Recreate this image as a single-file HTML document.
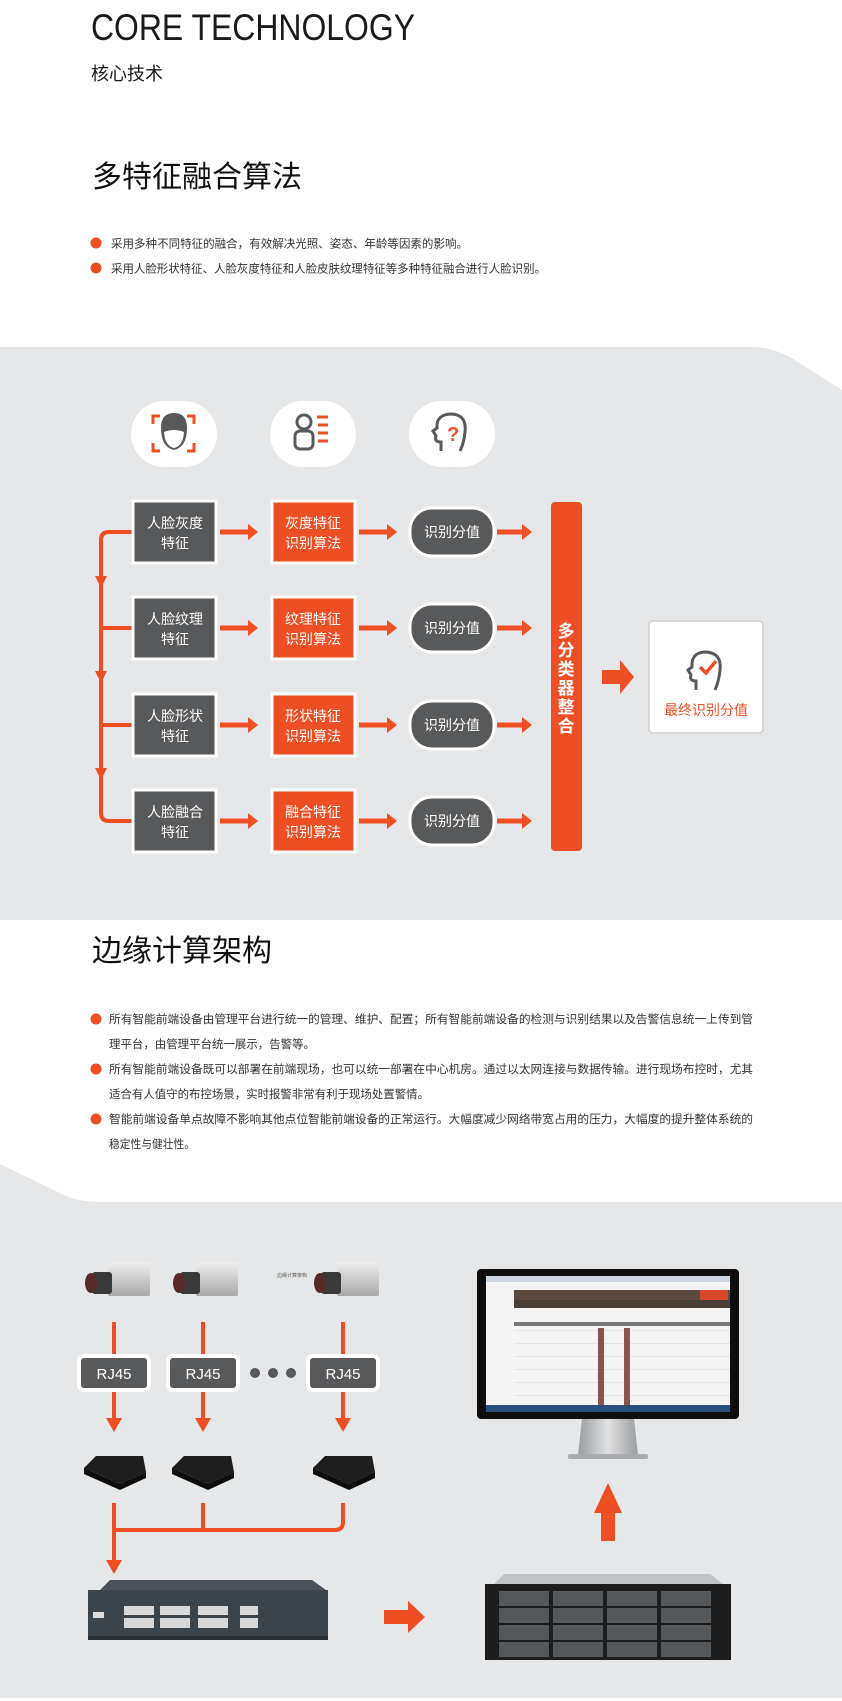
<!DOCTYPE html>
<html><head><meta charset="utf-8"><style>
html,body{margin:0;padding:0;background:#fff}
svg{display:block}
text{font-family:"Liberation Sans","Noto Sans CJK SC",sans-serif}
</style></head><body>
<svg width="842" height="1701" viewBox="0 0 842 1701" xmlns="http://www.w3.org/2000/svg">
<defs>
<linearGradient id="cam" x1="0" y1="0" x2="0" y2="1"><stop offset="0" stop-color="#eeeeee"/><stop offset="1" stop-color="#a9a9a9"/></linearGradient>
<linearGradient id="stand" x1="0" y1="0" x2="1" y2="0"><stop offset="0" stop-color="#9a9c9e"/><stop offset="0.5" stop-color="#e0e1e2"/><stop offset="1" stop-color="#9a9c9e"/></linearGradient>
</defs>
<rect width="842" height="1701" fill="#fff"/>
<!-- header -->
<text x="91" y="40" font-size="37" fill="#1a1a1a" textLength="324" lengthAdjust="spacingAndGlyphs">CORE TECHNOLOGY</text>
<text x="91" y="80" font-size="18" fill="#1a1a1a">核心技术</text>
<text x="92" y="187" font-size="30" fill="#111">多特征融合算法</text>
<circle cx="96" cy="243" r="5.5" fill="#ee4e23"/>
<text x="111" y="247.5" font-size="11.5" fill="#333" textLength="357" lengthAdjust="spacingAndGlyphs">采用多种不同特征的融合，有效解决光照、姿态、年龄等因素的影响。</text>
<circle cx="96" cy="268" r="5.5" fill="#ee4e23"/>
<text x="111" y="272.5" font-size="11.5" fill="#333" textLength="435" lengthAdjust="spacingAndGlyphs">采用人脸形状特征、人脸灰度特征和人脸皮肤纹理特征等多种特征融合进行人脸识别。</text>

<!-- gray section 1 -->
<path d="M0 347 H752 Q775 347 798 362 L842 390 V920 H0 Z" fill="#e6e7e8"/>
<rect x="131" y="401" width="86" height="66" rx="33" fill="#fff"/>
<rect x="270" y="401" width="86" height="66" rx="33" fill="#fff"/>
<rect x="409" y="401" width="86" height="66" rx="33" fill="#fff"/>
<g fill="none" stroke="#ee4e23" stroke-width="3">
<path d="M153 424 V416 H160"/><path d="M187 416 H194 V424"/><path d="M153 443 V451 H160"/><path d="M187 451 H194 V443"/>
</g>
<path d="M161 428 Q161 413 174 413 Q187 413 187 428 Q187 447 174 450 Q161 447 161 428 Z" fill="#58595b"/>
<path d="M164 432 Q174 428 184 432 Q183 446 174 448 Q165 446 164 432Z" fill="#fff"/>
<g fill="none" stroke="#58595b" stroke-width="3">
<circle cx="304" cy="422" r="7"/>
<rect x="295" y="431" width="18" height="18" rx="5"/>
</g>
<g stroke="#ee4e23" stroke-width="3"><line x1="317" y1="417" x2="328" y2="417"/><line x1="318" y1="425" x2="328" y2="425"/><line x1="318" y1="433" x2="328" y2="433"/><line x1="318" y1="441" x2="328" y2="441"/></g>
<path d="M441 451 V442 Q434 442 436 436 L433 431 L437 428 Q436 414 452 414 Q467 415 465 432 Q464 443 460 451" fill="none" stroke="#58595b" stroke-width="3"/>
<text x="447" y="441" font-size="20" font-weight="bold" fill="#ee4e23">?</text>

<path d="M133 532 H109 Q101 532 101 540 V813 Q101 821 109 821 H133" fill="none" stroke="#ee4e23" stroke-width="4"/>
<line x1="101" y1="628" x2="133" y2="628" stroke="#ee4e23" stroke-width="4"/>
<line x1="101" y1="725" x2="133" y2="725" stroke="#ee4e23" stroke-width="4"/>
<polygon points="95,576 107,576 101,588" fill="#ee4e23"/>
<polygon points="95,671 107,671 101,683" fill="#ee4e23"/>
<polygon points="95,768 107,768 101,780" fill="#ee4e23"/>

<g font-size="14" fill="#fff" text-anchor="middle">
<rect x="133" y="501" width="83" height="62" fill="#58595b" stroke="#fff" stroke-width="3"/>
<text x="175" y="528">人脸灰度</text><text x="175" y="548">特征</text>
<rect x="272" y="501" width="83" height="62" fill="#ee4e23" stroke="#fff" stroke-width="3"/>
<text x="313" y="528">灰度特征</text><text x="313" y="548">识别算法</text>
<rect x="410" y="508" width="84" height="48" rx="22" fill="#58595b" stroke="#fff" stroke-width="3"/>
<text x="452" y="537">识别分值</text>
<rect x="133" y="597" width="83" height="62" fill="#58595b" stroke="#fff" stroke-width="3"/>
<text x="175" y="624">人脸纹理</text><text x="175" y="644">特征</text>
<rect x="272" y="597" width="83" height="62" fill="#ee4e23" stroke="#fff" stroke-width="3"/>
<text x="313" y="624">纹理特征</text><text x="313" y="644">识别算法</text>
<rect x="410" y="604" width="84" height="48" rx="22" fill="#58595b" stroke="#fff" stroke-width="3"/>
<text x="452" y="633">识别分值</text>
<rect x="133" y="694" width="83" height="62" fill="#58595b" stroke="#fff" stroke-width="3"/>
<text x="175" y="721">人脸形状</text><text x="175" y="741">特征</text>
<rect x="272" y="694" width="83" height="62" fill="#ee4e23" stroke="#fff" stroke-width="3"/>
<text x="313" y="721">形状特征</text><text x="313" y="741">识别算法</text>
<rect x="410" y="701" width="84" height="48" rx="22" fill="#58595b" stroke="#fff" stroke-width="3"/>
<text x="452" y="730">识别分值</text>
<rect x="133" y="790" width="83" height="62" fill="#58595b" stroke="#fff" stroke-width="3"/>
<text x="175" y="817">人脸融合</text><text x="175" y="837">特征</text>
<rect x="272" y="790" width="83" height="62" fill="#ee4e23" stroke="#fff" stroke-width="3"/>
<text x="313" y="817">融合特征</text><text x="313" y="837">识别算法</text>
<rect x="410" y="797" width="84" height="48" rx="22" fill="#58595b" stroke="#fff" stroke-width="3"/>
<text x="452" y="826">识别分值</text>
</g>
<g stroke="#ee4e23" stroke-width="5">
<line x1="220" y1="532" x2="250" y2="532"/><line x1="359" y1="532" x2="389" y2="532"/><line x1="497" y1="532" x2="524" y2="532"/>
<line x1="220" y1="628" x2="250" y2="628"/><line x1="359" y1="628" x2="389" y2="628"/><line x1="497" y1="628" x2="524" y2="628"/>
<line x1="220" y1="725" x2="250" y2="725"/><line x1="359" y1="725" x2="389" y2="725"/><line x1="497" y1="725" x2="524" y2="725"/>
<line x1="220" y1="821" x2="250" y2="821"/><line x1="359" y1="821" x2="389" y2="821"/><line x1="497" y1="821" x2="524" y2="821"/>
</g>
<g fill="#ee4e23">
<polygon points="248,524 258,532 248,540"/><polygon points="387,524 397,532 387,540"/><polygon points="522,524 532,532 522,540"/>
<polygon points="248,620 258,628 248,636"/><polygon points="387,620 397,628 387,636"/><polygon points="522,620 532,628 522,636"/>
<polygon points="248,717 258,725 248,733"/><polygon points="387,717 397,725 387,733"/><polygon points="522,717 532,725 522,733"/>
<polygon points="248,813 258,821 248,829"/><polygon points="387,813 397,821 387,829"/><polygon points="522,813 532,821 522,829"/>
</g>
<rect x="551" y="502" width="31" height="349" rx="4" fill="#ee4e23"/>
<g font-size="17" font-weight="bold" fill="#fff" text-anchor="middle">
<text x="566" y="637">多</text><text x="566" y="656">分</text><text x="566" y="675">类</text><text x="566" y="694">器</text><text x="566" y="713">整</text><text x="566" y="732">合</text>
</g>
<polygon points="602,670 620,670 620,660 634,677 620,694 620,684 602,684" fill="#ee4e23"/>
<rect x="649" y="621" width="114" height="112" rx="4" fill="#fff" stroke="#cfd0d1" stroke-width="1.5"/>
<path d="M696 690 V681 Q689 681 691 675 L688 670 L692 667 Q691 652 706 652 Q722 653 720 670 Q719 681 715 690" fill="none" stroke="#58595b" stroke-width="3"/>
<polyline points="700,667 706,673 716,661" fill="none" stroke="#ee4e23" stroke-width="3.5"/>
<text x="706" y="715" font-size="14" fill="#ee4e23" text-anchor="middle">最终识别分值</text>

<text x="92" y="961" font-size="30" fill="#111">边缘计算架构</text>
<g font-size="11.5" fill="#333">
<circle cx="96" cy="1019" r="5.5" fill="#ee4e23"/>
<text x="109" y="1023" textLength="644" lengthAdjust="spacingAndGlyphs">所有智能前端设备由管理平台进行统一的管理、维护、配置；所有智能前端设备的检测与识别结果以及告警信息统一上传到管</text>
<text x="109" y="1048" textLength="206" lengthAdjust="spacingAndGlyphs">理平台，由管理平台统一展示，告警等。</text>
<circle cx="96" cy="1069" r="5.5" fill="#ee4e23"/>
<text x="109" y="1073" textLength="644" lengthAdjust="spacingAndGlyphs">所有智能前端设备既可以部署在前端现场，也可以统一部署在中心机房。通过以太网连接与数据传输。进行现场布控时，尤其</text>
<text x="109" y="1098" textLength="320" lengthAdjust="spacingAndGlyphs">适合有人值守的布控场景，实时报警非常有利于现场处置警情。</text>
<circle cx="96" cy="1119" r="5.5" fill="#ee4e23"/>
<text x="109" y="1123" textLength="644" lengthAdjust="spacingAndGlyphs">智能前端设备单点故障不影响其他点位智能前端设备的正常运行。大幅度减少网络带宽占用的压力，大幅度的提升整体系统的</text>
<text x="109" y="1148" textLength="86" lengthAdjust="spacingAndGlyphs">稳定性与健壮性。</text>
</g>

<path d="M0 1164 L62 1194 Q78 1202 100 1202 H842 V1698 H0 Z" fill="#e6e7e8"/>

<!-- cameras -->
<g transform="translate(84,1262)">
<rect x="24" y="0" width="42" height="34" rx="2" fill="url(#cam)"/>
<rect x="8" y="10" width="20" height="22" rx="3" fill="#3a3a3a"/><ellipse cx="7" cy="21" rx="6" ry="10" fill="#5a2a2a"/>
</g>
<g transform="translate(172,1262)">
<rect x="24" y="0" width="42" height="34" rx="2" fill="url(#cam)"/>
<rect x="8" y="10" width="20" height="22" rx="3" fill="#3a3a3a"/><ellipse cx="7" cy="21" rx="6" ry="10" fill="#5a2a2a"/>
</g>
<g transform="translate(313,1262)">
<rect x="24" y="0" width="42" height="34" rx="2" fill="url(#cam)"/>
<rect x="8" y="10" width="20" height="22" rx="3" fill="#3a3a3a"/><ellipse cx="7" cy="21" rx="6" ry="10" fill="#5a2a2a"/>
</g>
<text x="277" y="1277" font-size="5" fill="#555">边缘计算架构</text>
<g stroke="#ee4e23" stroke-width="4">
<line x1="114" y1="1322" x2="114" y2="1422"/><line x1="203" y1="1322" x2="203" y2="1422"/><line x1="343" y1="1322" x2="343" y2="1422"/>
</g>
<g fill="#ee4e23">
<polygon points="106,1418 122,1418 114,1432"/><polygon points="195,1418 211,1418 203,1432"/><polygon points="335,1418 351,1418 343,1432"/>
</g>
<g font-size="15" fill="#fff" text-anchor="middle">
<rect x="79" y="1356" width="70" height="34" rx="5" fill="#58595b" stroke="#fff" stroke-width="4"/><text x="114" y="1379">RJ45</text>
<rect x="168" y="1356" width="70" height="34" rx="5" fill="#58595b" stroke="#fff" stroke-width="4"/><text x="203" y="1379">RJ45</text>
<rect x="308" y="1356" width="70" height="34" rx="5" fill="#58595b" stroke="#fff" stroke-width="4"/><text x="343" y="1379">RJ45</text>
</g>
<g fill="#58595b"><circle cx="255" cy="1373" r="5"/><circle cx="273" cy="1373" r="5"/><circle cx="291" cy="1373" r="5"/></g>
<g>
<polygon points="84,1468 96,1456 143,1456 146,1472 120,1484" fill="#1e1e1e"/><polygon points="84,1468 120,1484 146,1472 146,1478 120,1490 84,1474" fill="#0d0d0d"/>
<polygon points="172,1468 184,1456 231,1456 234,1472 208,1484" fill="#1e1e1e"/><polygon points="172,1468 208,1484 234,1472 234,1478 208,1490 172,1474" fill="#0d0d0d"/>
<polygon points="313,1468 325,1456 372,1456 375,1472 349,1484" fill="#1e1e1e"/><polygon points="313,1468 349,1484 375,1472 375,1478 349,1490 313,1474" fill="#0d0d0d"/>
</g>
<path d="M114 1503 V1565 M203 1503 V1530 M114 1530 H335 Q343 1530 343 1522 V1503" fill="none" stroke="#ee4e23" stroke-width="4"/>
<polygon points="106,1560 122,1560 114,1574" fill="#ee4e23"/>
<!-- switch -->
<polygon points="100,1590 110,1580 312,1580 326,1590" fill="#4a5158"/>
<rect x="88" y="1590" width="240" height="50" fill="#3c444b"/>
<rect x="88" y="1636" width="240" height="4" fill="#2a3036"/>
<g fill="#d8d8d8">
<rect x="124" y="1606" width="30" height="22"/><rect x="160" y="1606" width="30" height="22"/><rect x="198" y="1606" width="30" height="22"/><rect x="240" y="1606" width="18" height="22"/>
</g>
<g fill="#3c444b"><rect x="124" y="1615" width="134" height="3"/></g>
<rect x="93" y="1612" width="11" height="6" fill="#ddd"/>
<polygon points="384,1610 408,1610 408,1601 425,1617 408,1633 408,1624 384,1624" fill="#ee4e23"/>
<!-- server -->
<polygon points="494,1584 504,1574 710,1574 723,1584" fill="#bfc3c6"/>
<rect x="485" y="1584" width="246" height="76" fill="#1d1d1d"/>
<g fill="#55585b">
<rect x="499" y="1591" width="50" height="15"/><rect x="553" y="1591" width="50" height="15"/><rect x="607" y="1591" width="50" height="15"/><rect x="661" y="1591" width="50" height="15"/>
<rect x="499" y="1608" width="50" height="15"/><rect x="553" y="1608" width="50" height="15"/><rect x="607" y="1608" width="50" height="15"/><rect x="661" y="1608" width="50" height="15"/>
<rect x="499" y="1625" width="50" height="15"/><rect x="553" y="1625" width="50" height="15"/><rect x="607" y="1625" width="50" height="15"/><rect x="661" y="1625" width="50" height="15"/>
<rect x="499" y="1642" width="50" height="15"/><rect x="553" y="1642" width="50" height="15"/><rect x="607" y="1642" width="50" height="15"/><rect x="661" y="1642" width="50" height="15"/>
</g>
<polygon points="601,1541 601,1513 594,1513 608,1483 622,1513 615,1513 615,1541" fill="#ee4e23"/>
<!-- monitor -->
<rect x="477" y="1269" width="262" height="150" rx="4" fill="#0e0e0e"/>
<rect x="486" y="1276" width="244" height="136" fill="#f4f4f4"/>
<rect x="486" y="1276" width="244" height="6" fill="#cfd8e2"/>
<rect x="514" y="1290" width="216" height="10" fill="#5a4a40"/>
<rect x="514" y="1300" width="216" height="8" fill="#4a3f37"/>
<rect x="700" y="1290" width="28" height="10" fill="#d9472b"/>
<rect x="514" y="1322" width="216" height="4" fill="#777"/>
<g fill="#e4e4e4">
<rect x="514" y="1330" width="216" height="1"/><rect x="514" y="1343" width="216" height="1"/><rect x="514" y="1356" width="216" height="1"/><rect x="514" y="1369" width="216" height="1"/><rect x="514" y="1382" width="216" height="1"/><rect x="514" y="1395" width="216" height="1"/>
</g>
<g fill="#8a5548">
<rect x="598" y="1328" width="6" height="78"/><rect x="624" y="1328" width="6" height="78"/>
</g>
<rect x="486" y="1405" width="244" height="7" fill="#2d4f7c"/>
<polygon points="582,1419 634,1419 638,1455 578,1455" fill="url(#stand)"/>
<rect x="568" y="1454" width="80" height="5" rx="2" fill="#a9abad"/>
</svg>
</body></html>
